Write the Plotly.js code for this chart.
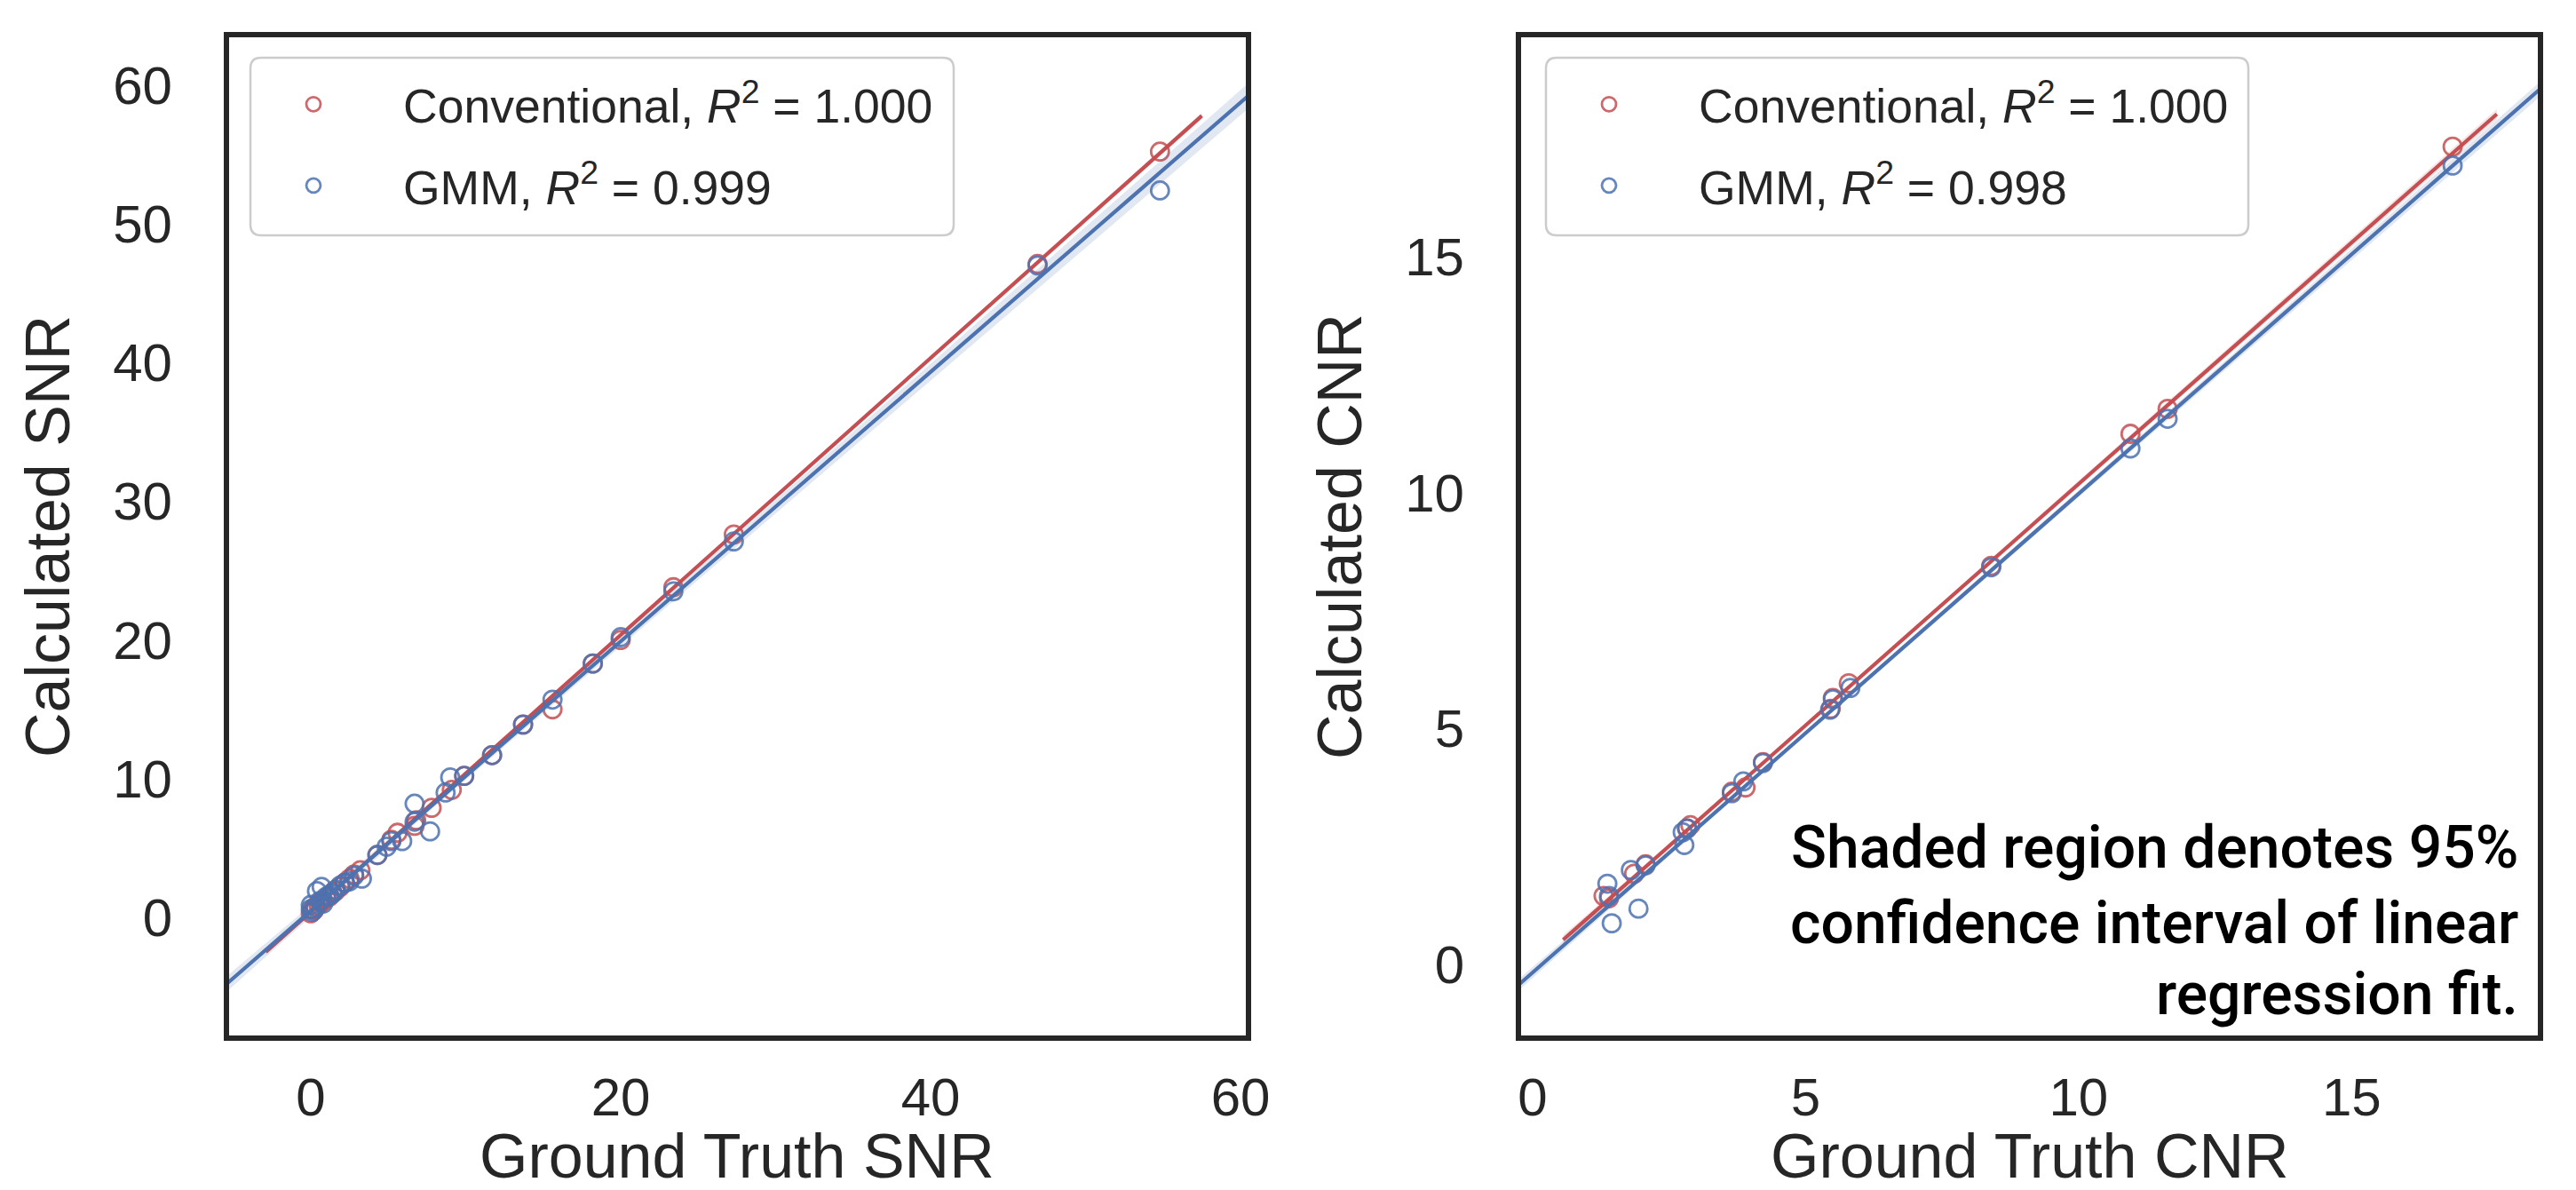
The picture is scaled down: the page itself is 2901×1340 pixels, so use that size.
<!DOCTYPE html>
<html><head><meta charset="utf-8">
<script src="https://cdn.plot.ly/plotly-3.0.1.min.js"></script>
<style>html,body{margin:0;padding:0;background:#fff;}#chart{width:2901px;height:1340px;}</style>
</head><body><div id="chart"></div>
<script>
// ---------- Left panel: SNR ----------
const snrConvX = [0.0,0.1,0.2,0.3,0.5,0.6,0.8,1.0,1.2,1.4,1.6,1.9,2.2,2.5,2.8,3.2,4.3,5.2,5.6,6.7,6.8,7.8,9.1,9.9,11.7,13.7,15.6,18.2,20.0,23.4,27.3,46.9,54.8];
const snrConvY = [0.3,0.6,0.5,0.8,0.9,1.1,1.2,1.4,1.5,1.8,1.9,2.2,2.5,2.8,3.1,3.4,4.5,5.6,6.1,6.6,7.0,7.9,9.2,10.2,11.7,13.9,15.0,18.3,20.0,23.8,27.6,47.1,55.2];
const snrGmmX = [0.0,0.0,0.1,0.3,0.4,0.7,0.6,0.8,1.0,1.2,1.4,1.6,1.9,2.2,2.5,2.8,3.3,4.3,4.9,5.2,5.9,6.7,6.7,7.7,8.7,9.0,9.9,11.7,13.7,15.6,18.2,20.0,23.4,27.3,46.9,54.8];
const snrGmmY = [0.9,0.6,0.4,0.7,1.9,2.2,1.2,1.0,1.5,1.6,1.7,2.0,2.3,2.5,2.6,3.0,2.8,4.5,5.1,5.5,5.5,6.9,8.2,6.2,9.0,10.1,10.2,11.7,13.9,15.7,18.3,20.2,23.5,27.1,47.0,52.4];
// regression fits: [slope, intercept]
const snrConvFit = [0.998, 0.40];
const snrGmmFit = [0.971, 0.48];
const snrConvLineX = [-2.9, 57.5];
const snrGmmLineX = [-7, 63];
const snrConvBandX = [-2.9, 0, 8, 20, 40, 57.5];
const snrConvBandHalf = [0.2, 0.13, 0.08, 0.1, 0.16, 0.22];
const snrGmmBandX = [-7, 0, 8, 20, 40, 63];
const snrGmmBandHalf = [0.6, 0.4, 0.25, 0.35, 0.6, 0.95];
const snrXTicks = [0, 20, 40, 60];
const snrYTicks = [0, 10, 20, 30, 40, 50, 60];

// ---------- Right panel: CNR ----------
const cnrConvX = [1.3,1.4,1.86,2.07,2.83,2.89,3.65,3.9,4.22,5.46,5.5,5.79,8.4,10.95,11.63,16.85];
const cnrConvY = [1.45,1.4,1.92,2.12,2.88,2.95,3.66,3.75,4.29,5.42,5.65,5.96,8.45,11.25,11.78,17.34];
const cnrGmmX = [1.37,1.4,1.45,1.8,1.94,2.07,2.75,2.83,2.78,3.65,3.86,4.22,5.45,5.5,5.82,8.4,10.95,11.63,16.85];
const cnrGmmY = [1.71,1.45,0.87,2.0,1.18,2.1,2.8,2.88,2.53,3.63,3.88,4.27,5.4,5.62,5.86,8.42,10.94,11.57,16.94];
const cnrConvFit = [1.024, -0.053];
const cnrGmmFit = [1.0156, -0.177];
const cnrConvLineX = [0.56, 17.66];
const cnrGmmLineX = [-1, 19.5];
const cnrConvBandX = [0.56, 2, 5, 10, 15, 17.66];
const cnrConvBandHalf = [0.1, 0.06, 0.04, 0.06, 0.09, 0.11];
const cnrGmmBandX = [-1, 2, 5, 10, 15, 19.5];
const cnrGmmBandHalf = [0.14, 0.07, 0.05, 0.07, 0.12, 0.17];
const cnrXTicks = [0, 5, 10, 15];
const cnrYTicks = [0, 5, 10, 15];

const names = {
  snrConv: 'Conventional, <i>R</i><sup>2</sup> = 1.000',
  snrGmm: 'GMM, <i>R</i><sup>2</sup> = 0.999',
  cnrConv: 'Conventional, <i>R</i><sup>2</sup> = 1.000',
  cnrGmm: 'GMM, <i>R</i><sup>2</sup> = 0.998'
};
const xTitles = ['Ground Truth SNR', 'Ground Truth CNR'];
const yTitles = ['Calculated SNR', 'Calculated CNR'];
const noteLines = ['Shaded region denotes 95%', 'confidence interval of linear', 'regression fit.'];

const RED = '#C44E52', BLUE = '#4C72B0';
const RED_BAND = 'rgba(196,78,82,0.15)', BLUE_BAND = 'rgba(76,114,176,0.16)';
const FONT = 'Liberation Sans, Arial, Helvetica, sans-serif';
const INK = '#262626';
const W = 2901, H = 1340;

function scatter(x, y, color, name, xa, ya, leg, grp) {
  return {type:'scatter', mode:'markers', x, y, xaxis:xa, yaxis:ya, name,
    legend: leg, legendgroup: grp, showlegend:true,
    marker:{symbol:'circle-open', size:20, color, opacity:0.85, line:{width:2.8, color}},
    hoverinfo:'skip'};
}
function band(bx, half, fit, fill, xa, ya) {
  const up = bx.map((v,i)=> fit[0]*v + fit[1] + half[i]);
  const lo = bx.map((v,i)=> fit[0]*v + fit[1] - half[i]);
  return {type:'scatter', mode:'lines', x: bx.concat(bx.slice().reverse()),
    y: up.concat(lo.slice().reverse()), fill:'toself', fillcolor:fill,
    line:{width:0, color:'rgba(0,0,0,0)'}, xaxis:xa, yaxis:ya, showlegend:false, hoverinfo:'skip'};
}
function fitLine(lx, fit, color, xa, ya) {
  return {type:'scatter', mode:'lines', x: lx, y: lx.map(v=>fit[0]*v+fit[1]),
    line:{color, width:4.2}, xaxis:xa, yaxis:ya, showlegend:false, hoverinfo:'skip'};
}

const data = [
  scatter(snrConvX, snrConvY, RED, names.snrConv, 'x', 'y', 'legend', 'a'),
  band(snrConvBandX, snrConvBandHalf, snrConvFit, RED_BAND, 'x', 'y'),
  fitLine(snrConvLineX, snrConvFit, RED, 'x', 'y'),
  scatter(snrGmmX, snrGmmY, BLUE, names.snrGmm, 'x', 'y', 'legend', 'b'),
  band(snrGmmBandX, snrGmmBandHalf, snrGmmFit, BLUE_BAND, 'x', 'y'),
  fitLine(snrGmmLineX, snrGmmFit, BLUE, 'x', 'y'),
  scatter(cnrConvX, cnrConvY, RED, names.cnrConv, 'x2', 'y2', 'legend2', 'c'),
  band(cnrConvBandX, cnrConvBandHalf, cnrConvFit, RED_BAND, 'x2', 'y2'),
  fitLine(cnrConvLineX, cnrConvFit, RED, 'x2', 'y2'),
  scatter(cnrGmmX, cnrGmmY, BLUE, names.cnrGmm, 'x2', 'y2', 'legend2', 'd'),
  band(cnrGmmBandX, cnrGmmBandHalf, cnrGmmFit, BLUE_BAND, 'x2', 'y2'),
  fitLine(cnrGmmLineX, cnrGmmFit, BLUE, 'x2', 'y2')
];

function xaxis(domain, range, ticks, anchor) {
  return {domain, range, tickvals: ticks, anchor,
    showgrid:false, zeroline:false, showline:true, mirror:true, linewidth:6, linecolor:INK,
    ticks:'outside', ticklen:12, tickcolor:'rgba(0,0,0,0)',
    tickfont:{family:FONT, size:60, color:INK}};
}
function yaxis(domain, range, ticks, title, anchor) {
  return {domain, range, tickvals: ticks, anchor,
    showgrid:false, zeroline:false, showline:true, mirror:true, linewidth:6, linecolor:INK,
    ticks:'outside', ticklen:46, tickcolor:'rgba(0,0,0,0)',
    tickfont:{family:FONT, size:60, color:INK},
    title:{text:title, font:{family:FONT, size:70, color:INK}, standoff:28}};
}

const yDom = [1-1166/H, 1-42/H];
function legendCfg(xpx) {
  return {x: xpx/W, y: 1-76/H, xanchor:'left', yanchor:'top',
    bgcolor:'rgba(0,0,0,0)', borderwidth:0, itemwidth:192, tracegroupgap:19,
    font:{family:FONT, size:53.5, color:INK}, traceorder:'grouped'};
}
function roundRect(x0, y0, x1, y1, r) {
  const X = v=>v/W, Y = v=>1-v/H;
  return {type:'path', xref:'paper', yref:'paper', layer:'below',
    fillcolor:'#ffffff', line:{color:'#cccccc', width:2.5},
    path:`M ${X(x0+r)},${Y(y0)} L ${X(x1-r)},${Y(y0)} Q ${X(x1)},${Y(y0)} ${X(x1)},${Y(y0+r)} `+
         `L ${X(x1)},${Y(y1-r)} Q ${X(x1)},${Y(y1)} ${X(x1-r)},${Y(y1)} L ${X(x0+r)},${Y(y1)} `+
         `Q ${X(x0)},${Y(y1)} ${X(x0)},${Y(y1-r)} L ${X(x0)},${Y(y0+r)} Q ${X(x0)},${Y(y0)} ${X(x0+r)},${Y(y0)} Z`};
}

const noteBaselines = [977, 1062, 1142];
const annotations = noteLines.map((t,i)=>({
  text:t, xref:'paper', yref:'paper', x:2838/W, y:1-(noteBaselines[i]-23)/H,
  xanchor:'right', yanchor:'middle', showarrow:false, align:'right',
  font:{family:'Roboto, sans-serif', size:66, weight:500, color:'#000000'}
}));
const xTitleCenters = [830.5, 2285.5];
xTitles.forEach((t,i)=>annotations.push({
  text:t, xref:'paper', yref:'paper', x:xTitleCenters[i]/W, y:1-(1326-24)/H,
  xanchor:'center', yanchor:'middle', showarrow:false,
  font:{family:FONT, size:70, color:INK}
}));

const layout = {
  width:W, height:H, margin:{l:0,r:0,t:0,b:0},
  paper_bgcolor:'#ffffff', plot_bgcolor:'#ffffff', showlegend:true,
  xaxis: xaxis([258/W, 1403/W], [-5.27, 60.34], snrXTicks, 'y'),
  yaxis: yaxis(yDom, [-8.51, 63.44], snrYTicks, yTitles[0], 'x'),
  xaxis2: xaxis([1713/W, 2858/W], [-0.21, 18.41], cnrXTicks, 'y2'),
  yaxis2: yaxis(yDom, [-1.51, 19.66], cnrYTicks, yTitles[1], 'x2'),
  legend: legendCfg(252),
  legend2: legendCfg(1711),
  shapes: [roundRect(282, 65, 1074, 265, 12), roundRect(1741, 65, 2532, 265, 12)],
  annotations
};

Plotly.newPlot('chart', data, layout, {staticPlot:true, displayModeBar:false});
</script></body></html>
